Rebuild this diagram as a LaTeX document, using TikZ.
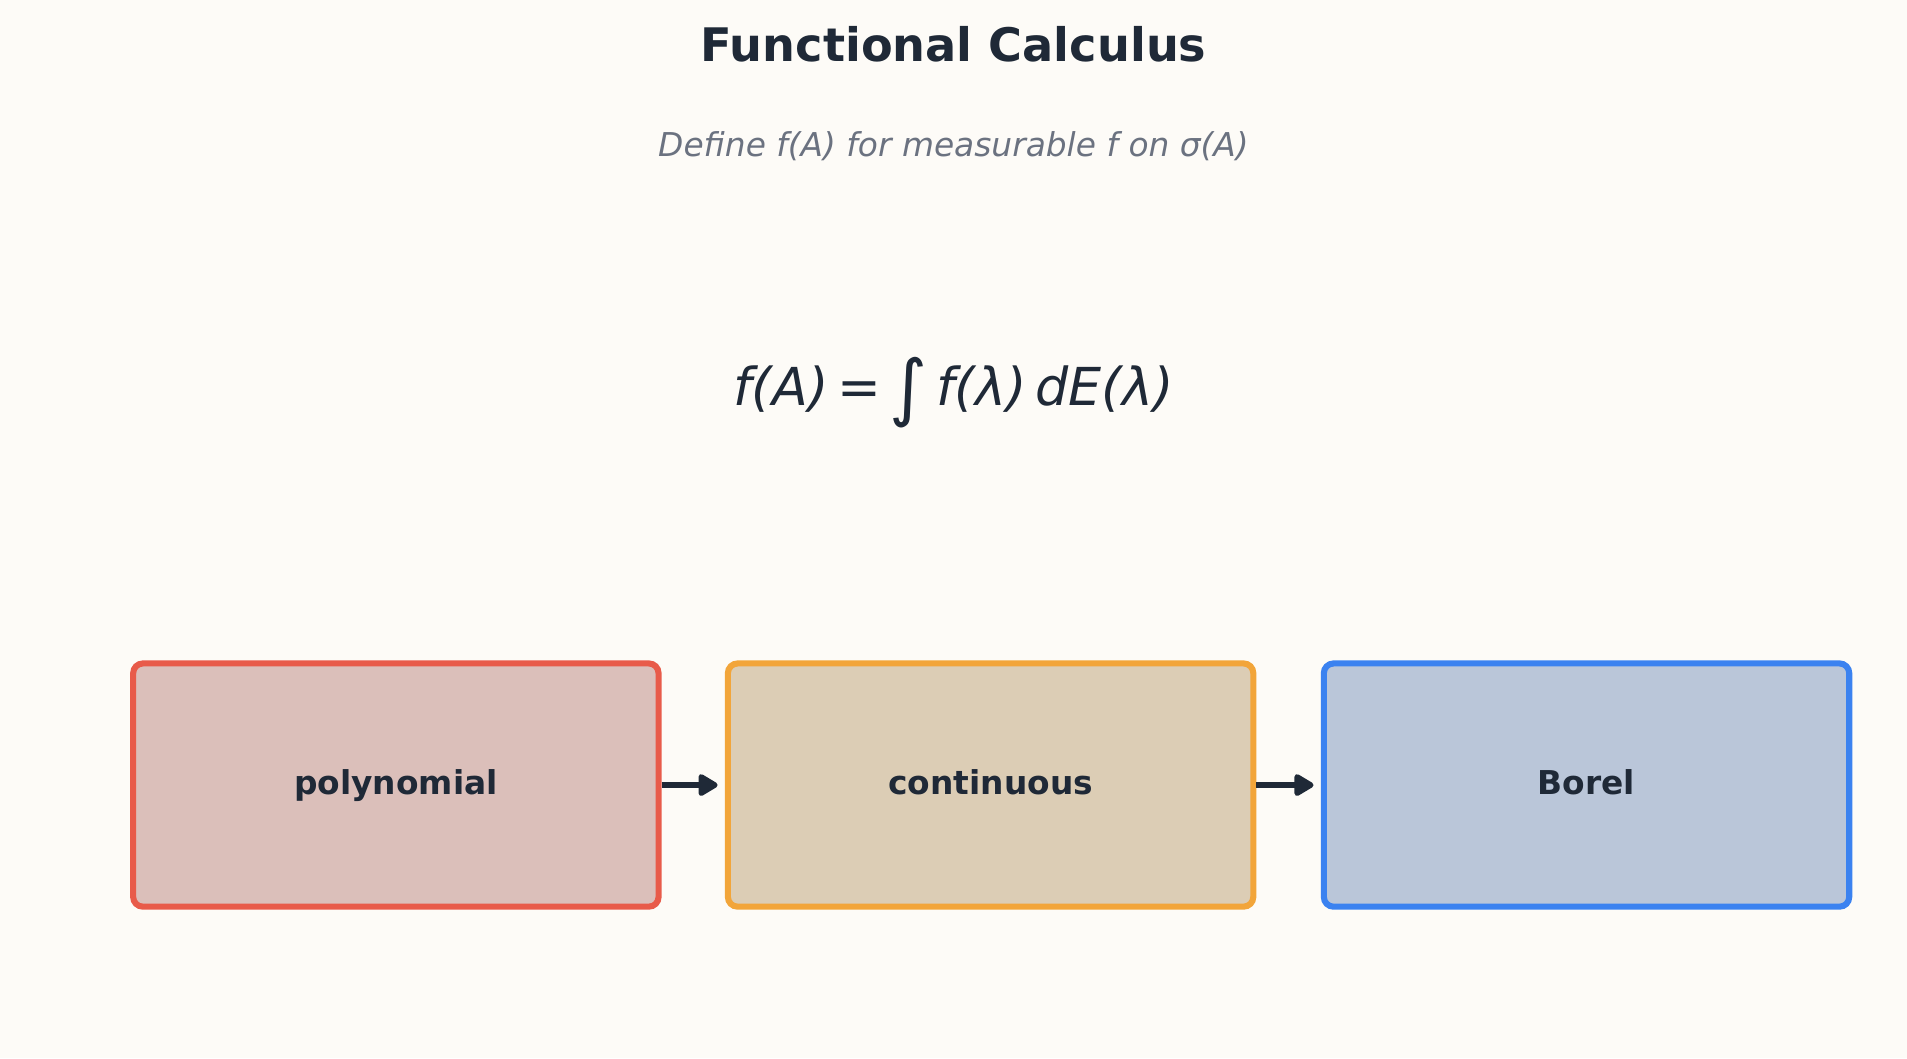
\documentclass[tikz,border=0pt]{standalone}
\usepackage{fontspec}
\setmainfont{DejaVu Sans}
\usetikzlibrary{arrows.meta}
\definecolor{bg}{HTML}{FDFBF7}
\definecolor{ink}{HTML}{1F2937}
\definecolor{sub}{HTML}{6B7280}
\definecolor{rb}{HTML}{E85B4A}\definecolor{rf}{HTML}{DBBFBA}
\definecolor{ob}{HTML}{F2A53A}\definecolor{of}{HTML}{DCCDB5}
\definecolor{bb}{HTML}{3B82F0}\definecolor{bf}{HTML}{BAC6D9}
\tikzset{box/.style={draw, line width=2.5pt, rounded corners=4pt, minimum width=216pt, minimum height=100pt, text=ink, text height=10pt, text depth=2.5pt, font=\fontsize{13.5}{15}\selectfont\bfseries},
arr/.style={draw=ink, line width=2.2pt, shorten >=3pt, -{Triangle[length=9pt,width=10pt,round]}}}
\begin{document}
\begin{tikzpicture}[x=0.5pt,y=-0.5pt]
\fill[bg] (0,0) rectangle (1568,870);
\useasboundingbox (0,0) rectangle (1568,870);
\node[text=ink,font=\fontsize{19}{22}\selectfont\bfseries] (title) at (784,36) {Functional Calculus};
\node[text=sub,font=\fontsize{13.5}{16}\selectfont\itshape] (subt) at (784,120) {Define f(A) for measurable f on σ(A)};
\node[text=ink,font=\fontsize{21.5}{25}\selectfont\itshape] (eq) at (784,323) {f(A)\,=\,\raisebox{-3pt}{\fontsize{30}{30}\selectfont\upshape ∫}\,f(λ)\,dE(λ)};
\node[box,draw=rb,fill=rf] (p) at (325.5,645.5) {polynomial};
\node[box,draw=ob,fill=of] (c) at (814.5,645.5) {continuous};
\node[box,draw=bb,fill=bf] (b) at (1304.5,645.5) {Borel};
\draw[arr] (p.east) -- (c.west);
\draw[arr] (c.east) -- (b.west);
\end{tikzpicture}
\end{document}
